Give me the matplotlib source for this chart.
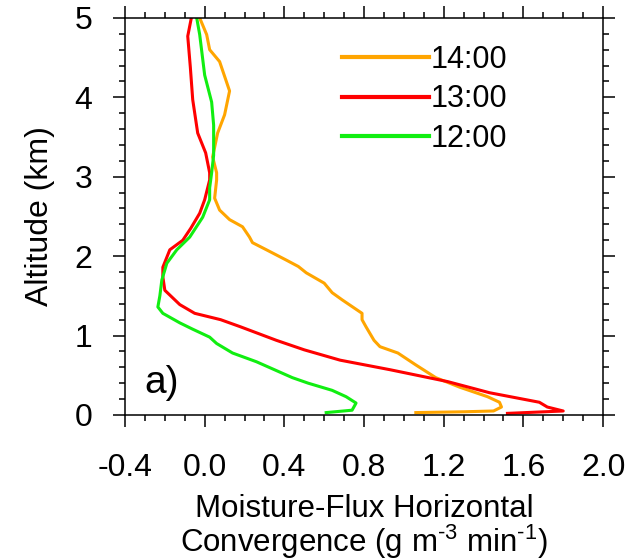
import matplotlib
matplotlib.use('Agg')
import matplotlib.pyplot as plt
from matplotlib.ticker import MultipleLocator

plt.rcParams['font.family'] = ['Liberation Sans', 'DejaVu Sans']
plt.rcParams['mathtext.fontset'] = 'custom'
plt.rcParams['mathtext.rm'] = 'Liberation Sans'

# Профили (высота, км / конвергенция, г м-3 мин-1), снизу вверх
alt_14 = [0.03, 0.04, 0.05, 0.10, 0.16, 0.23, 0.35, 0.47, 0.63, 0.78, 0.86, 0.94,
          1.11, 1.20, 1.28, 1.45, 1.54, 1.66, 1.79, 1.87, 1.95, 2.08, 2.17, 2.24,
          2.37, 2.46, 2.58, 2.73, 2.96, 3.05, 3.25, 3.55, 3.78, 4.08, 4.45, 4.60,
          4.79, 5.00]
conv_14 = [1.06, 1.30, 1.45, 1.49, 1.48, 1.42, 1.28, 1.16, 1.06, 0.97, 0.88, 0.85,
           0.81, 0.79, 0.79, 0.69, 0.64, 0.60, 0.51, 0.47, 0.41, 0.31, 0.24, 0.225,
           0.19, 0.125, 0.075, 0.05, 0.06, 0.06, 0.04, 0.065, 0.10, 0.125, 0.075, 0.025,
           0.01, -0.025]

alt_13 = [0.02, 0.05, 0.10, 0.16, 0.28, 0.42, 0.57, 0.69, 0.82, 0.94, 1.11, 1.20,
          1.28, 1.39, 1.57, 1.74, 1.86, 2.08, 2.20, 2.35, 2.54, 2.71, 2.96, 3.05,
          3.30, 3.55, 3.97, 4.38, 4.77, 5.00]
conv_13 = [1.52, 1.80, 1.72, 1.68, 1.43, 1.22, 0.93, 0.68, 0.50, 0.36, 0.18, 0.08,
           -0.05, -0.125, -0.20, -0.21, -0.21, -0.175, -0.11, -0.07, -0.025, 0.0, 0.025, 0.025,
           0.005, -0.035, -0.06, -0.072, -0.085, -0.067]

alt_12 = [0.03, 0.06, 0.15, 0.23, 0.31, 0.40, 0.47, 0.57, 0.67, 0.78, 0.90, 0.98,
          1.08, 1.16, 1.28, 1.36, 1.50, 1.70, 1.91, 2.08, 2.24, 2.49, 2.71, 2.86,
          3.05, 3.27, 3.65, 3.94, 4.28, 4.79, 5.00]
conv_12 = [0.61, 0.74, 0.76, 0.71, 0.64, 0.52, 0.44, 0.35, 0.26, 0.14, 0.06, 0.025,
           -0.06, -0.125, -0.21, -0.235, -0.225, -0.215, -0.19, -0.14, -0.075, -0.01, 0.025, 0.025,
           0.035, 0.045, 0.045, 0.035, 0.0, -0.025, -0.04]

x_ticks = [-0.4, 0.0, 0.4, 0.8, 1.2, 1.6, 2.0]
y_ticks = [0, 1, 2, 3, 4, 5]

fig = plt.figure(figsize=(6.4, 5.6), dpi=100)
ax = fig.add_axes([0.1953, 0.259, 0.747, 0.709])

ax.plot(conv_14, alt_14, color='#ffa500', lw=2.2, label='14:00')
ax.plot(conv_13, alt_13, color='#ff0000', lw=2.2, label='13:00')
ax.plot(conv_12, alt_12, color='#11ee11', lw=2.2, label='12:00')

ax.set_xlim(-0.4, 2.0)
ax.set_ylim(0, 5)
ax.set_xticks(x_ticks)
ax.set_xticklabels(['%.1f' % v for v in x_ticks])
ax.set_yticks(y_ticks)
ax.xaxis.set_minor_locator(MultipleLocator(0.1))
ax.yaxis.set_minor_locator(MultipleLocator(0.2))
ax.tick_params(which='both', direction='out', top=True, right=True,
               labelsize=23, width=1.1)
ax.tick_params(which='major', length=8.5)
ax.tick_params(which='minor', length=4.3)
ax.tick_params(axis='x', pad=19)
ax.tick_params(axis='y', pad=15)
for s in ax.spines.values():
    s.set_linewidth(1.1)

ax.set_ylabel('Altitude (km)', fontsize=23, labelpad=14)
ax.set_xlabel('Moisture-Flux Horizontal\nConvergence (g m$^{\\mathrm{\u2010}3}$ min$^{\\mathrm{\u2010}1}$)',
              fontsize=22.5, linespacing=0.95, labelpad=8)

ax.text(0.04, 0.055, 'a)', transform=ax.transAxes, fontsize=28)

leg = ax.legend(loc='upper left', bbox_to_anchor=(0.454, 0.933), frameon=False,
                fontsize=22, handlelength=2.85, handletextpad=0.05,
                labelspacing=0.32, borderpad=0, borderaxespad=0)
for h in leg.get_lines():
    h.set_linewidth(3)

fig.savefig('out.png', dpi=100)
